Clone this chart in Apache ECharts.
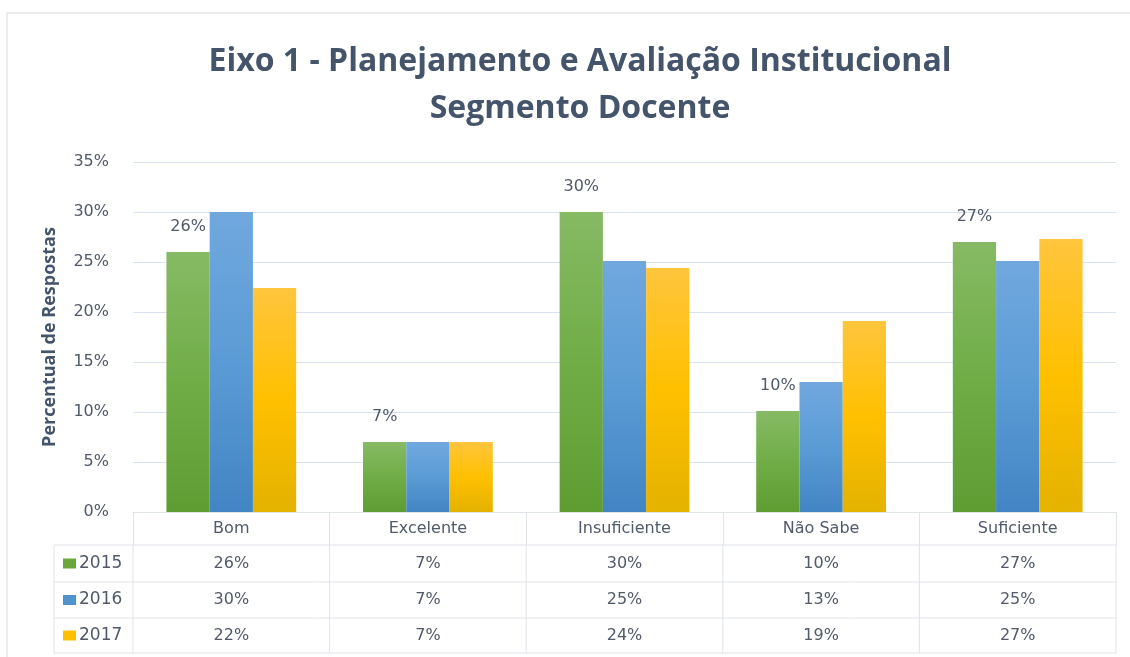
<!DOCTYPE html>
<html>
<head>
<meta charset="utf-8">
<script src="https://cdn.jsdelivr.net/npm/echarts@6/dist/echarts.min.js"></script>
<style>
  html, body { margin: 0; background: #fff; }
  #chart { width: 1130px; height: 657px; }
</style>
</head>
<body>
<div id="chart"></div>
<script>
// ── data ─────────────────────────────────────────────
const categories = ['Bom', 'Excelente', 'Insuficiente', 'Não Sabe', 'Suficiente']
const years      = ['2015', '2016', '2017']
const values2015 = [26, 7, 30, 10.1, 27]
const values2016 = [30, 7, 25.1, 13, 25.1]
const values2017 = [22.4, 7, 24.4, 19.1, 27.3]
const yMin = 0, yMax = 35, yStep = 5

const seriesValues = [values2015, values2016, values2017]

// ── look ─────────────────────────────────────────────
const TEXT   = '#505a6a'
const TITLE  = '#44546a'
const LINE   = '#dfe3ea'
const GRID   = '#d9e2f3'
const FONT   = '"DejaVu Sans", sans-serif'
const NARROW = '"Open Sans", sans-serif'

const COLORS = [
  ['#86ba64', '#70ad47', '#5f9c32'],
  ['#70a8de', '#5b9bd5', '#4285c4'],
  ['#ffc53d', '#ffc000', '#e4b200'],
]
const KEY_COLORS = ['#6aa83e', '#4f92d0', '#ffc000']

const grad = c => new echarts.graphic.LinearGradient(0, 0, 0, 1, [
  { offset: 0, color: c[0] }, { offset: 0.5, color: c[1] }, { offset: 1, color: c[2] },
])

const pct = v => Math.round(v) + '%'

const chart = echarts.init(document.getElementById('chart'))

chart.setOption({
  animation: false,
  backgroundColor: '#fff',
  title: {
    text: 'Eixo 1 - Planejamento e Avaliação Institucional\nSegmento Docente',
    left: 575, top: 33, textAlign: 'center',
    textStyle: { fontFamily: NARROW, fontWeight: 'bold', fontSize: 32, lineHeight: 47, color: TITLE },
  },
  grid: { left: 133, right: 14, top: 162, bottom: 145 },
  xAxis: {
    type: 'category', data: categories,
    axisLine: { lineStyle: { color: LINE } },
    axisTick: { show: true, length: 33, lineStyle: { color: LINE } },
    axisLabel: { color: TEXT, fontFamily: FONT, fontSize: 16, margin: 9 },
  },
  yAxis: {
    type: 'value', min: yMin, max: yMax, interval: yStep,
    name: 'Percentual de Respostas', nameLocation: 'middle', nameGap: 74,
    nameTextStyle: { fontFamily: NARROW, fontWeight: 'bold', fontSize: 18, color: TITLE },
    axisLine: { show: false }, axisTick: { show: false },
    splitLine: { lineStyle: { color: GRID } },
    axisLabel: { formatter: '{value}%', color: TEXT, fontFamily: FONT, fontSize: 16, margin: 24 },
  },
  series: seriesValues.map((vals, i) => ({
    name: years[i], type: 'bar', data: vals,
    barGap: 0, barCategoryGap: '34%',
    itemStyle: { color: grad(COLORS[i]) },
    label: i === 0 ? {
      show: true, position: 'top', distance: 17,
      formatter: p => pct(p.value),
      color: TEXT, fontFamily: FONT, fontSize: 16,
    } : { show: false },
  })),
})

// ── data table under the axis ────────────────────────
function drawTable() {
  const centers = categories.map((c, i) => chart.convertToPixel({ xAxisIndex: 0 }, i))
  const colW    = centers[1] - centers[0]
  const bounds  = [centers[0] - colW / 2, ...centers.map(c => c + colW / 2)]
  const y0      = chart.convertToPixel({ yAxisIndex: 0 }, 0)
  const rowTops = [y0 + 33, y0 + 70, y0 + 106, y0 + 141]
  const left    = bounds[0] - 79
  const right   = bounds[bounds.length - 1]

  const els = [
    { type: 'rect', shape: { x: 7, y: 13, width: 1140, height: 700 },
      style: { fill: 'none', stroke: '#d9d9d9', lineWidth: 1 }, silent: true },
  ]
  rowTops.forEach(y => els.push({ type: 'line', shape: { x1: left, y1: y, x2: right, y2: y },
    style: { stroke: LINE, lineWidth: 1 } }))
  ;[left, ...bounds].forEach(x => els.push({ type: 'line',
    shape: { x1: x, y1: rowTops[0], x2: x, y2: rowTops[3] }, style: { stroke: LINE, lineWidth: 1 } }))

  years.forEach((yr, r) => {
    const cy = (rowTops[r] + rowTops[r + 1]) / 2
    els.push({ type: 'rect', shape: { x: left + 9, y: cy - 5, width: 13, height: 10 },
      style: { fill: KEY_COLORS[r] } })
    els.push({ type: 'text', x: left + 25, y: cy,
      style: { text: yr, fill: TEXT, font: '17px ' + FONT, textVerticalAlign: 'middle' } })
    seriesValues[r].forEach((v, c) => els.push({ type: 'text', x: centers[c], y: cy,
      style: { text: pct(v), fill: TEXT, font: '16px ' + FONT, textAlign: 'center', textVerticalAlign: 'middle' } }))
  })
  chart.setOption({ graphic: els })
}
drawTable()
</script>
</body>
</html>
